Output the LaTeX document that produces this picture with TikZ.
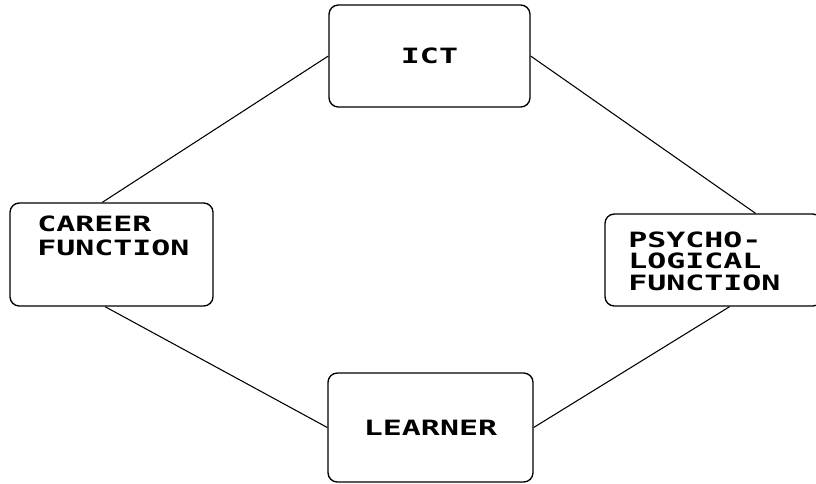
\documentclass[tikz,border=0pt]{standalone}
\usepackage{fontspec}
\usepackage{tikz}
\newfontfamily\blockfont[FakeStretch=1.5]{DejaVu Sans Mono Bold}
\tikzset{
    block/.style={
        rectangle,
        rounded corners=7pt,
        draw=black,
        line width=1pt,
        inner sep=0pt,
        font=\blockfont\fontsize{15.8}{18}\selectfont
    },
    blocktext/.style={
        inner sep=0pt,
        align=left,
        anchor=west,
        font=\blockfont\fontsize{15.8}{18}\selectfont
    },
    link/.style={
        draw=black,
        line width=0.8pt
    }
}
\begin{document}
\begin{tikzpicture}[x=0.75pt,y=-0.75pt]
        \useasboundingbox (0,0) rectangle (816,483);

        \node[block,minimum width=150.75pt,minimum height=76.5pt] (ict) at (429.5,56) {ICT};
        \node[block,minimum width=152.25pt,minimum height=77.25pt] (career) at (111.5,254.5) {};
        \node[block,minimum width=162.75pt,minimum height=69pt] (psycho) at (713.5,260) {};
        \node[block,minimum width=153.75pt,minimum height=81.75pt] (learner) at (430.5,427.5) {LEARNER};

        \node[blocktext] (careertext) at (37,235.5) {CAREER\\FUNCTION};
        \node[blocktext,font=\blockfont\fontsize{15.8}{16}\selectfont] (psychotext) at (628,261) {PSYCHO-\\LOGICAL\\FUNCTION};

        \path[link] (ict.west) -- (career.100);
        \path[link] (ict.east) -- (psycho.48);
        \path[link] (career.263) -- (learner.west);
        \path[link] (learner.east) -- (psycho.-71);
    \end{tikzpicture}
\end{document}
